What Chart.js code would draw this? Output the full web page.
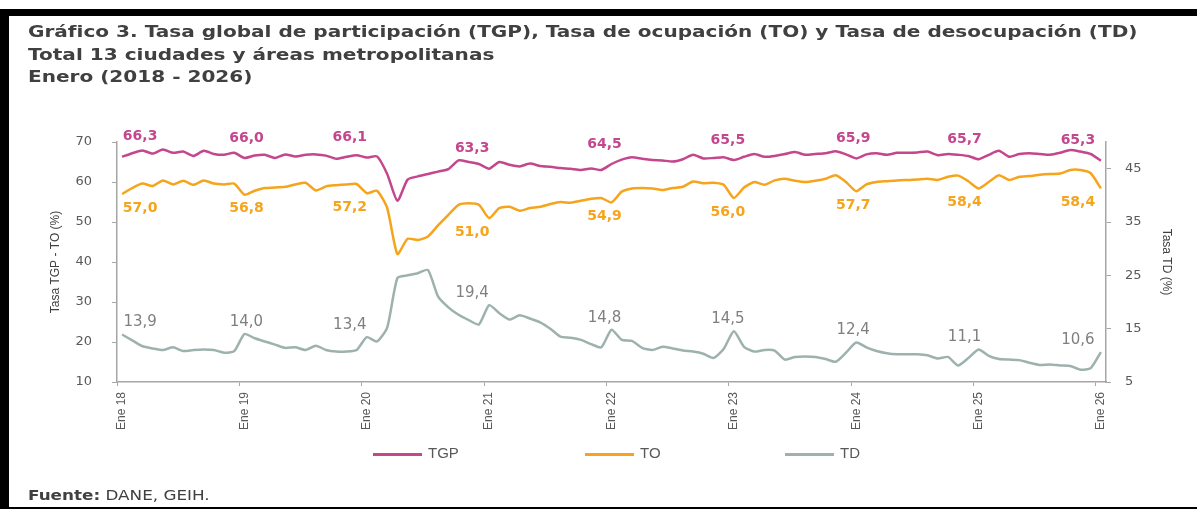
<!DOCTYPE html>
<html lang="es">
<head>
<meta charset="utf-8">
<title>Gráfico 3. TGP, TO y TD</title>
<script src="https://cdn.jsdelivr.net/npm/chart.js@4.4.1/dist/chart.umd.min.js"></script>
<style>
  html, body { margin: 0; padding: 0; background: #fff; }
  #wrap { position: relative; width: 1197px; height: 509px; overflow: hidden; background: #fff; }
  #chart { position: absolute; left: 0; top: 0; }
  .frame { position: absolute; background: #000; }
  #title {
    position: absolute; left: 28px; top: 21px;
    font: bold 16px 'DejaVu Sans', sans-serif; line-height: 22.5px;
    color: #404040; white-space: nowrap;
    transform: scaleX(1.253); transform-origin: 0 0;
  }
  #source {
    position: absolute; left: 28px; top: 486px;
    font: 14px 'DejaVu Sans', sans-serif; line-height: 18px; color: #404040;
    transform: scaleX(1.2); transform-origin: 0 0; white-space: nowrap;
  }
  #source b { font-weight: bold; }
  .lg { position: absolute; top: 443px; height: 20px; font: 15px 'Liberation Sans', sans-serif; color: #595959; line-height: 20px; white-space: nowrap; }
  .lg i { display: inline-block; width: 49px; height: 3px; vertical-align: middle; margin-right: 6px; }
</style>
</head>
<body>
<div id="wrap">
  <canvas id="chart" width="1197" height="509"></canvas>
  <div class="frame" style="left:2px;top:9px;width:1195px;height:7px"></div>
  <div class="frame" style="left:0;top:9px;width:9px;height:500px"></div>
  <div class="frame" style="left:0;top:507px;width:1197px;height:2px"></div>
  <div id="title">Gráfico 3. Tasa global de participación (TGP), Tasa de ocupación (TO) y Tasa de desocupación (TD)<br>Total 13 ciudades y áreas metropolitanas<br>Enero (2018 - 2026)</div>
  <div id="legend"></div>
  <div id="source"><b>Fuente:</b> DANE, GEIH.</div>
</div>
<script>
// Monthly series, Jan 2018 .. Jan 2026 (97 months)
const years = ['18', '19', '20', '21', '22', '23', '24', '25', '26'];
const monthNames = ['Ene', 'Feb', 'Mar', 'Abr', 'May', 'Jun', 'Jul', 'Ago', 'Sep', 'Oct', 'Nov', 'Dic'];

const tgp = [
  66.3, 67.2, 67.9, 67.1, 68.1, 67.3, 67.6, 66.5, 67.8, 67.0, 66.8, 67.3,
  66.0, 66.6, 66.8, 66.0, 66.9, 66.4, 66.8, 66.9, 66.6, 65.8, 66.3, 66.7,
  66.1, 66.4, 62.0, 55.3, 60.6, 61.4, 62.0, 62.6, 63.2, 65.4, 65.0, 64.5,
  63.3, 65.0, 64.3, 63.9, 64.6, 64.0, 63.8, 63.5, 63.3, 63.0, 63.4, 63.0,
  64.5, 65.6, 66.2, 65.8, 65.5, 65.4, 65.1, 65.7, 66.8, 65.9, 66.0, 66.2,
  65.5, 66.3, 67.0, 66.3, 66.5, 67.0, 67.5, 66.8, 67.0, 67.2, 67.7, 66.9,
  65.9, 66.9, 67.2, 66.8, 67.3, 67.3, 67.4, 67.6, 66.7, 67.0, 66.8, 66.5,
  65.7, 66.8, 67.8, 66.3, 67.0, 67.2, 67.0, 66.8, 67.3, 68.0, 67.6, 67.0,
  65.3
];
const to = [
  57.0, 58.5, 59.6, 59.0, 60.4, 59.4, 60.3, 59.3, 60.4, 59.6, 59.4, 59.6,
  56.8, 57.8, 58.5, 58.6, 58.8, 59.4, 59.8, 57.9, 58.9, 59.2, 59.4, 59.5,
  57.2, 57.8, 53.5, 42.0, 45.8, 45.5, 46.4, 49.2, 51.8, 54.3, 54.7, 54.3,
  51.0, 53.5, 53.8, 52.8, 53.5, 53.8, 54.5, 55.0, 54.8, 55.3, 55.8, 56.0,
  54.9, 57.6, 58.4, 58.5, 58.4, 58.0, 58.5, 58.8, 60.1, 59.7, 59.8, 59.3,
  56.0, 58.6, 60.0, 59.3, 60.4, 60.8, 60.3, 60.0, 60.3, 60.8, 61.7, 60.0,
  57.7, 59.4, 60.0, 60.2, 60.4, 60.5, 60.6, 60.8, 60.5, 61.3, 61.6, 60.2,
  58.4, 60.0, 61.7, 60.5, 61.3, 61.5, 61.8, 62.0, 62.1, 63.0, 63.0, 62.2,
  58.4
];
const td = [
  13.9, 12.8, 11.7, 11.3, 11.0, 11.5, 10.8, 11.0, 11.1, 11.0, 10.5, 10.8,
  14.0, 13.2, 12.6, 12.0, 11.4, 11.5, 11.0, 11.8, 11.0, 10.7, 10.7, 11.0,
  13.4, 12.6, 15.2, 24.5, 25.0, 25.4, 26.0, 21.0, 19.0, 17.6, 16.6, 15.8,
  19.4, 17.9, 16.7, 17.5, 16.9, 16.2, 15.0, 13.5, 13.3, 12.9, 12.1, 11.5,
  14.8, 12.9, 12.7, 11.4, 11.0, 11.6, 11.3, 10.9, 10.7, 10.3, 9.5, 11.2,
  14.5, 11.6, 10.7, 11.0, 10.9, 9.2, 9.7, 9.8, 9.7, 9.3, 8.8, 10.5,
  12.4, 11.5, 10.8, 10.4, 10.2, 10.2, 10.2, 10.0, 9.4, 9.7, 8.1, 9.5,
  11.1, 9.9, 9.3, 9.2, 9.1, 8.6, 8.2, 8.3, 8.1, 8.0, 7.3, 7.6,
  10.6
];

const leftTicks = [10, 20, 30, 40, 50, 60, 70];
const rightTicks = [5, 15, 25, 35, 45];

const months = [];
years.forEach(y => monthNames.forEach(m => months.push(m + ' ' + y)));
months.length = tgp.length;

// label nudges per January (x) and per series (y), like the original placement
const janDx = [18, 2, -17, -17, -7, -6, -3, -14, -23];
const seriesDy = [-20, 14, -12];

const C = {
  tgp: '#c4468d',
  to: '#f5a41c',
  td: '#9db2ae',
  tdLabel: '#7f7f7f',
  axis: '#a6a6a6',
  text: '#595959',
};

const series = [
  { name: 'TGP', data: tgp, color: C.tgp, axis: 'y', labelColor: C.tgp, labelFont: "bold 14px 'DejaVu Sans', sans-serif" },
  { name: 'TO', data: to, color: C.to, axis: 'y', labelColor: C.to, labelFont: "bold 14px 'DejaVu Sans', sans-serif" },
  { name: 'TD', data: td, color: C.td, axis: 'y1', labelColor: C.tdLabel, labelFont: "15px 'DejaVu Sans', sans-serif" },
];

const janLabels = {
  id: 'janLabels',
  afterDatasetsDraw(chart) {
    const ctx = chart.ctx;
    chart.data.datasets.forEach((ds, d) => {
      const meta = chart.getDatasetMeta(d);
      ctx.save();
      ctx.font = series[d].labelFont;
      ctx.fillStyle = series[d].labelColor;
      ctx.textAlign = 'center';
      ctx.textBaseline = 'middle';
      meta.data.forEach((pt, i) => {
        if (i % 12 !== 0) return;
        const txt = ds.data[i].toFixed(1).replace('.', ',');
        ctx.fillText(txt, pt.x + janDx[i / 12], pt.y + seriesDy[d]);
      });
      ctx.restore();
    });
  }
};

const tickFont = { family: "'DejaVu Sans', sans-serif", size: 13 };
const titleFont = { family: "'Liberation Sans', sans-serif", size: 12 };

new Chart(document.getElementById('chart'), {
  type: 'line',
  data: {
    labels: months,
    datasets: series.map(s => ({
      label: s.name,
      data: s.data,
      yAxisID: s.axis,
      borderColor: s.color,
      backgroundColor: s.color,
      borderWidth: 2.5,
      pointRadius: 0,
      tension: 0.2,
    })),
  },
  options: {
    responsive: false,
    animation: false,
    layout: { padding: { left: 30, right: 10, top: 142, bottom: 67 } },
    plugins: { legend: { display: false }, tooltip: { enabled: false } },
    scales: {
      x: {
        type: 'category',
        offset: true,
        afterFit: s => { s.height = 60; },
        border: { color: C.axis, width: 1.5 },
        grid: {
          offset: true, drawOnChartArea: false, tickLength: 4,
          tickColor: c => (c.index % 12 === 0 ? C.axis : 'rgba(0,0,0,0)'),
        },
        ticks: {
          autoSkip: false, maxRotation: 90, minRotation: 90, padding: 6,
          color: C.text, font: { family: "'Liberation Sans', sans-serif", size: 12 },
          callback: (v, i) => (i % 12 === 0 ? months[i] : ''),
        },
      },
      y: {
        position: 'left', min: 10, max: 70,
        afterFit: s => { s.width = 87; },
        afterBuildTicks: s => { s.ticks = leftTicks.map(v => ({ value: v })); },
        border: { color: C.axis, width: 1.5 },
        grid: { drawOnChartArea: false, tickLength: 5, color: C.axis },
        ticks: { color: C.text, font: tickFont, padding: 20 },
        title: { display: true, text: 'Tasa TGP - TO (%)', color: '#404040', font: titleFont, padding: { top: 18 } },
      },
      y1: {
        position: 'right', min: 5, max: 50,
        afterFit: s => { s.width = 81; },
        afterBuildTicks: s => { s.ticks = rightTicks.map(v => ({ value: v })); },
        border: { color: C.axis, width: 1.5 },
        grid: { drawOnChartArea: false, tickLength: 5, color: C.axis },
        ticks: { color: C.text, font: tickFont, padding: 14 },
        title: { display: true, text: 'Tasa TD (%)', color: '#404040', font: titleFont, padding: { top: 13 } },
      },
    },
  },
  plugins: [janLabels],
});

// legend (HTML), built from the series list
const legendX = [373, 585, 785];
const lg = document.getElementById('legend');
series.forEach((s, k) => {
  const el = document.createElement('div');
  el.className = 'lg';
  el.style.left = legendX[k] + 'px';
  el.innerHTML = '<i style="background:' + s.color + '"></i>' + s.name;
  lg.appendChild(el);
});
</script>
</body>
</html>
